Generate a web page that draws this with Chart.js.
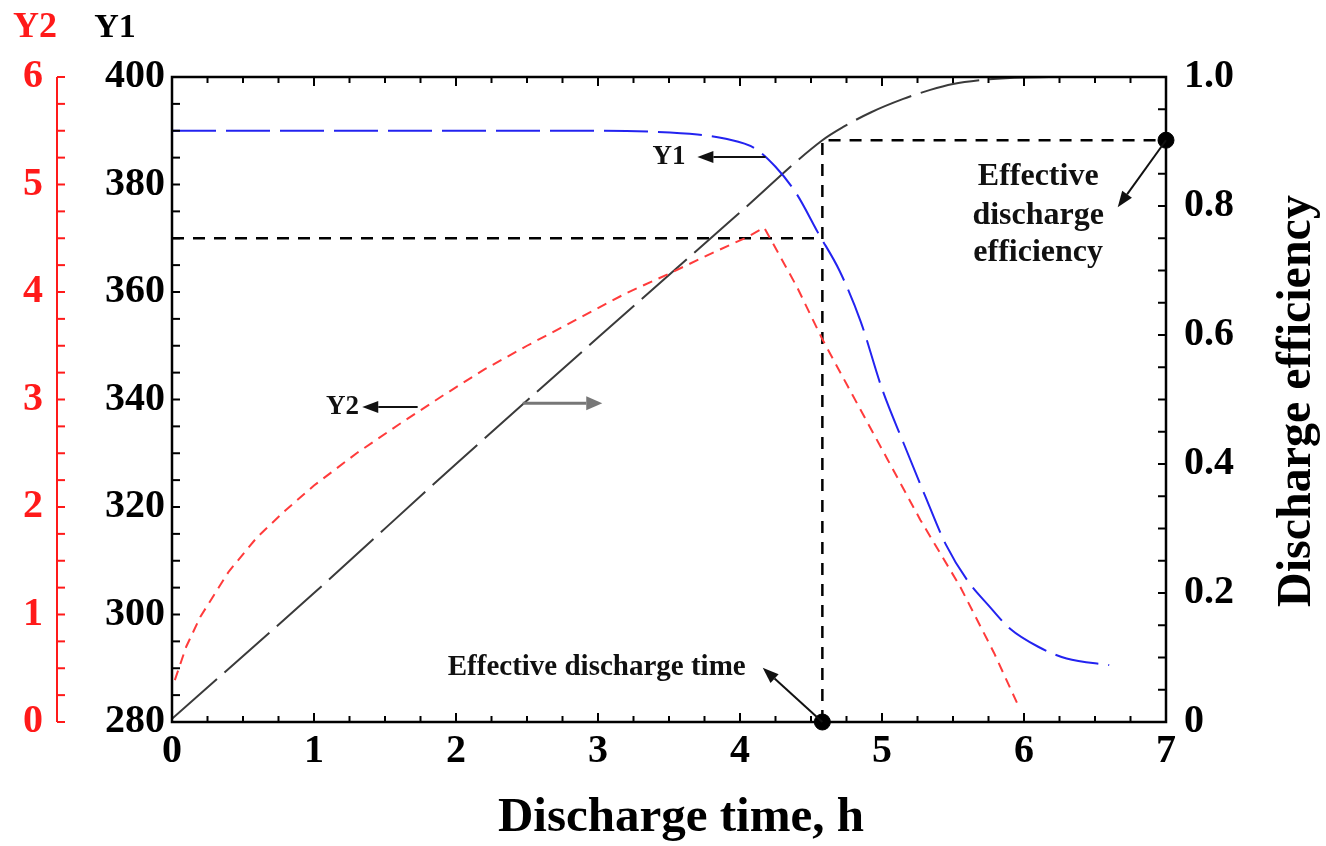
<!DOCTYPE html>
<html>
<head>
<meta charset="utf-8">
<script src="https://cdn.jsdelivr.net/npm/chart.js@4/dist/chart.umd.min.js"></script>
<style>
  html, body { margin: 0; padding: 0; background: #fff; }
  #wrap { width: 1326px; height: 846px; }
</style>
</head>
<body>
<div id="wrap"><canvas id="chart" width="1326" height="846"></canvas></div>
<script>
const SERIF = "'Liberation Serif', 'Times New Roman', serif";

// Y1 (left black axis), blue curve
const timeY1 = [0, 1, 2, 3, 3.4, 3.7, 3.9, 4.1, 4.25, 4.4, 4.55, 4.7, 4.85, 5.0, 5.15, 5.3, 5.45, 5.6, 5.75, 5.9, 6.1, 6.3, 6.6];
const valuesY1 = [390, 390, 390, 390, 389.8, 389.3, 388.5, 386.8, 383.3, 378.2, 371, 364, 354.5, 342, 332, 322.3, 313, 306.4, 301.7, 297.4, 294, 291.8, 290.6];

// Y2 (left red axis), red curve
const timeY2 = [0.02, 0.1, 0.2, 0.4, 0.6, 0.8, 1.0, 1.3, 1.6, 1.9, 2.2, 2.5, 2.9, 3.2, 3.5, 3.8, 4.05, 4.17, 4.4, 4.58, 4.76, 5.04, 5.27, 5.55, 5.79, 5.95];
const valuesY2 = [0.39, 0.7, 0.98, 1.4, 1.72, 1.97, 2.2, 2.5, 2.77, 3.03, 3.28, 3.5, 3.78, 3.99, 4.17, 4.36, 4.51, 4.6, 4.05, 3.56, 3.12, 2.44, 1.88, 1.26, 0.64, 0.18];

// discharge efficiency (right axis), black curve
const timeEff = [0, 1, 2, 3, 4, 4.58, 4.73, 4.92, 5.15, 5.34, 5.5, 5.69, 5.93, 6.2];
const valuesEff = [0.005, 0.2, 0.4, 0.596, 0.79, 0.902, 0.923, 0.945, 0.966, 0.98, 0.989, 0.995, 0.999, 1.0];

const effectiveTime = 4.58;
const effectiveEff = 0.902;
const guideY1 = 370;

const effTickLabels = ['0', '0.2', '0.4', '0.6', '0.8', '1.0'];

const toPts = (xs, ys) => xs.map((x, i) => ({ x: x, y: ys[i] }));

function arrow(ctx, x1, y1, x2, y2, color, lw, head, hw) {
  const ang = Math.atan2(y2 - y1, x2 - x1);
  const bx = x2 - head * Math.cos(ang), by = y2 - head * Math.sin(ang);
  ctx.strokeStyle = color; ctx.fillStyle = color; ctx.lineWidth = lw;
  ctx.beginPath(); ctx.moveTo(x1, y1); ctx.lineTo(bx, by); ctx.stroke();
  ctx.beginPath();
  ctx.moveTo(x2, y2);
  ctx.lineTo(bx + hw * Math.sin(ang), by - hw * Math.cos(ang));
  ctx.lineTo(bx - hw * Math.sin(ang), by + hw * Math.cos(ang));
  ctx.closePath(); ctx.fill();
}

const frame = {
  id: 'frame',
  afterDatasetsDraw(chart) {
    const { ctx, chartArea: a, scales } = chart;
    const line = (x1, y1, x2, y2) => { ctx.beginPath(); ctx.moveTo(x1, y1); ctx.lineTo(x2, y2); ctx.stroke(); };
    ctx.save();
    ctx.strokeStyle = '#000';
    ctx.lineWidth = 2;
    // x ticks, bottom and top
    for (let i = 0; i <= 28; i++) {
      const px = scales.x.getPixelForValue(i * 0.25);
      const len = i % 4 === 0 ? 9 : 6;
      line(px, a.bottom, px, a.bottom - len);
      line(px, a.top, px, a.top + len);
    }
    // left Y1 ticks
    for (let v = 280; v <= 400; v += 5) {
      const py = scales.y.getPixelForValue(v);
      line(a.left, py, a.left + 8, py);
    }
    // right efficiency ticks
    for (let i = 0; i <= 20; i++) {
      const py = scales.y3.getPixelForValue(i * 0.05);
      line(a.right, py, a.right - 8, py);
    }
    ctx.lineWidth = 2.5;
    ctx.strokeRect(a.left, a.top, a.right - a.left, a.bottom - a.top);

    // red Y2 axis
    ctx.strokeStyle = '#ff1a1a';
    ctx.lineWidth = 2;
    const rx = 57;
    line(rx, scales.y2.getPixelForValue(6), rx, scales.y2.getPixelForValue(0));
    for (let i = 0; i <= 24; i++) {
      const py = scales.y2.getPixelForValue(i * 0.25);
      line(rx, py, rx + 8, py);
    }

    // axis captions
    ctx.textAlign = 'center';
    ctx.textBaseline = 'middle';
    ctx.fillStyle = '#ff1a1a';
    ctx.font = 'bold 36px ' + SERIF;
    ctx.fillText('Y2', 35, 28);
    ctx.fillStyle = '#000';
    ctx.font = 'bold 34px ' + SERIF;
    ctx.fillText('Y1', 115, 28);

    ctx.font = 'bold 49px ' + SERIF;
    ctx.fillText('Discharge time, h', 681, 818);

    ctx.save();
    ctx.translate(1298, 401);
    ctx.rotate(-Math.PI / 2);
    ctx.font = 'bold 48px ' + SERIF;
    ctx.fillText('Discharge efficiency', 0, 0);
    ctx.restore();

    // annotations
    const X = v => scales.x.getPixelForValue(v);
    const Y = v => scales.y.getPixelForValue(v);
    const E = v => scales.y3.getPixelForValue(v);

    ctx.font = 'bold 27px ' + SERIF;
    ctx.fillStyle = '#111';
    ctx.fillText('Y1', X(3.5), Y(385.1));
    arrow(ctx, X(4.18), Y(385.1), X(3.7), Y(385.1), '#111', 2, 16, 6);
    ctx.fillStyle = '#111';
    ctx.fillText('Y2', X(1.2), Y(338.6));
    arrow(ctx, X(1.73), Y(338.6), X(1.34), Y(338.6), '#111', 2, 16, 6);
    arrow(ctx, X(2.47), Y(339.3), X(3.03), Y(339.3), '#777', 3, 16, 7);

    ctx.fillStyle = '#111';
    ctx.font = 'bold 29px ' + SERIF;
    ctx.textAlign = 'right';
    ctx.fillText('Effective discharge time', X(4.04), E(0.084));
    arrow(ctx, X(effectiveTime), E(0), X(4.16), E(0.084), '#111', 2, 16, 6);

    ctx.textAlign = 'center';
    ctx.fillStyle = '#111';
    ctx.font = 'bold 32px ' + SERIF;
    ctx.fillText('Effective', X(6.1), E(0.845));
    ctx.fillText('discharge', X(6.1), E(0.785));
    ctx.fillText('efficiency', X(6.1), E(0.728));
    arrow(ctx, X(7), E(effectiveEff), X(6.66), E(0.798), '#111', 2, 16, 6);
    ctx.restore();
  }
};

const tickFont = { family: SERIF, size: 40, weight: 'bold' };

new Chart(document.getElementById('chart'), {
  type: 'scatter',
  data: {
    datasets: [
      {
        label: 'Y1', data: toPts(timeY1, valuesY1), yAxisID: 'y', showLine: true,
        borderColor: '#2323f0', borderWidth: 2, borderDash: [44, 10],
        cubicInterpolationMode: 'monotone', pointRadius: 0
      },
      {
        label: 'Y2', data: toPts(timeY2, valuesY2), yAxisID: 'y2', showLine: true,
        borderColor: '#ff3b3b', borderWidth: 2, borderDash: [10, 7],
        tension: 0, pointRadius: 0
      },
      {
        label: 'Discharge efficiency', data: toPts(timeEff, valuesEff), yAxisID: 'y3', showLine: true,
        borderColor: '#3a3a3a', borderWidth: 2, borderDash: [60, 10],
        cubicInterpolationMode: 'monotone', pointRadius: 0
      },
      {
        label: 'guide Y1', data: [{ x: 0, y: guideY1 }, { x: effectiveTime, y: guideY1 }], yAxisID: 'y',
        showLine: true, borderColor: '#000', borderWidth: 2.5, borderDash: [12, 9], pointRadius: 0
      },
      {
        label: 'guide eff', data: [{ x: effectiveTime, y: 0 }, { x: effectiveTime, y: effectiveEff }, { x: 7, y: effectiveEff }],
        yAxisID: 'y3', showLine: true, borderColor: '#000', borderWidth: 2.5, borderDash: [12, 9], pointRadius: 0
      },
      {
        label: 'markers', data: [{ x: effectiveTime, y: 0 }, { x: 7, y: effectiveEff }], yAxisID: 'y3',
        showLine: false, pointRadius: 8, pointBackgroundColor: '#000', pointBorderColor: '#000', clip: false
      }
    ]
  },
  options: {
    responsive: false,
    devicePixelRatio: 1,
    animation: false,
    layout: { padding: { top: 77, left: 0, right: 0, bottom: 0 } },
    plugins: { legend: { display: false }, tooltip: { enabled: false } },
    scales: {
      x: {
        type: 'linear', position: 'bottom', min: 0, max: 7,
        grid: { display: false, drawTicks: false }, border: { display: false },
        ticks: { stepSize: 1, color: '#000', font: tickFont, padding: 6, maxRotation: 0 },
        title: { display: false },
        afterFit: s => { s.height = 124; }
      },
      y: {
        position: 'left', weight: 0, min: 280, max: 400,
        grid: { display: false, drawTicks: false }, border: { display: false },
        ticks: { stepSize: 20, color: '#000', font: tickFont, padding: 7 },
        afterFit: s => { s.width = 102; }
      },
      y2: {
        position: 'left', weight: 1, min: 0, max: 6,
        grid: { display: false, drawTicks: false }, border: { display: false },
        ticks: { stepSize: 1, color: '#ff1a1a', font: tickFont, padding: 27 },
        afterFit: s => { s.width = 70; }
      },
      y3: {
        position: 'right', min: 0, max: 1,
        grid: { display: false, drawTicks: false }, border: { display: false },
        ticks: { stepSize: 0.2, color: '#000', font: tickFont, padding: 18, callback: (v, i) => effTickLabels[i] },
        afterFit: s => { s.width = 160; }
      }
    }
  },
  plugins: [frame]
});
</script>
</body>
</html>
